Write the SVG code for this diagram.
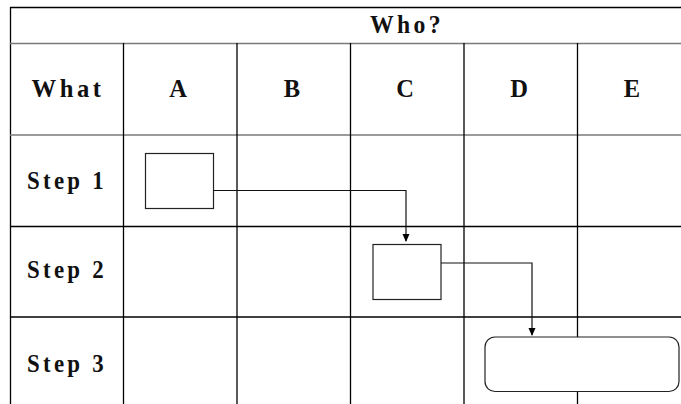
<svg xmlns="http://www.w3.org/2000/svg" width="681" height="404" viewBox="0 0 681 404">
<style>
.grid{stroke:#000;stroke-width:1.3;fill:none}
.hgrey{stroke:#7a7a7a;stroke-width:1.6;fill:none}
.lbl{font-family:"Liberation Serif","Times New Roman",serif;font-weight:bold;font-size:24.5px;fill:#111;text-anchor:middle}
.sp{letter-spacing:3.5px}
.box{fill:#fff;stroke:#222;stroke-width:1.2}
.conn{fill:none;stroke:#111;stroke-width:1.2}
</style>
<defs>
<marker id="arr" markerWidth="8" markerHeight="8" refX="7" refY="4" orient="auto" markerUnits="userSpaceOnUse">
<path d="M0,0.5 L8,4 L0,7.5 Z" fill="#000"/>
</marker>
</defs>
<rect width="681" height="404" fill="#fff"/>
<g id="grid">
<line class="grid" x1="10" y1="7.5" x2="681" y2="7.5"/>
<line class="grid" x1="10.5" y1="7" x2="10.5" y2="404"/>
<line class="hgrey" x1="10" y1="43.5" x2="681" y2="43.5"/>
<line class="hgrey" x1="10" y1="135" x2="681" y2="135"/>
<line class="grid" x1="10" y1="226.5" x2="681" y2="226.5"/>
<line class="grid" x1="10" y1="317" x2="681" y2="317"/>
<line class="grid" x1="123.5" y1="43" x2="123.5" y2="404"/>
<line class="grid" x1="237" y1="43" x2="237" y2="404"/>
<line class="grid" x1="350.5" y1="43" x2="350.5" y2="404"/>
<line class="grid" x1="464" y1="43" x2="464" y2="404"/>
<line class="grid" x1="577.5" y1="43" x2="577.5" y2="404"/>
</g>
<g id="labels">
<text class="lbl sp" x="407" y="32.5" textLength="74" lengthAdjust="spacingAndGlyphs">Who?</text>
<text class="lbl sp" x="68" y="97" textLength="73" lengthAdjust="spacingAndGlyphs">What</text>
<text class="lbl" x="178" y="97">A</text>
<text class="lbl" x="292" y="97">B</text>
<text class="lbl" x="405" y="97">C</text>
<text class="lbl" x="519" y="97">D</text>
<text class="lbl" x="632" y="97">E</text>
<text class="lbl sp" x="67" y="189" textLength="80" lengthAdjust="spacingAndGlyphs">Step 1</text>
<text class="lbl sp" x="67" y="278" textLength="80" lengthAdjust="spacingAndGlyphs">Step 2</text>
<text class="lbl sp" x="67" y="372" textLength="80" lengthAdjust="spacingAndGlyphs">Step 3</text>
</g>
<g id="connectors">
<polyline class="conn" points="213,190.5 406,190.5 406,241" marker-end="url(#arr)"/>
<polyline class="conn" points="441,263 532,263 532,335" marker-end="url(#arr)"/>
</g>
<g id="nodeA"><rect class="box" x="145.5" y="153.5" width="68" height="55"/></g>
<g id="nodeC"><rect class="box" x="373" y="244.5" width="68" height="55"/></g>
<g id="nodeD"><rect class="box" x="485" y="337" width="194" height="54.5" rx="10" ry="10"/></g>
</svg>
